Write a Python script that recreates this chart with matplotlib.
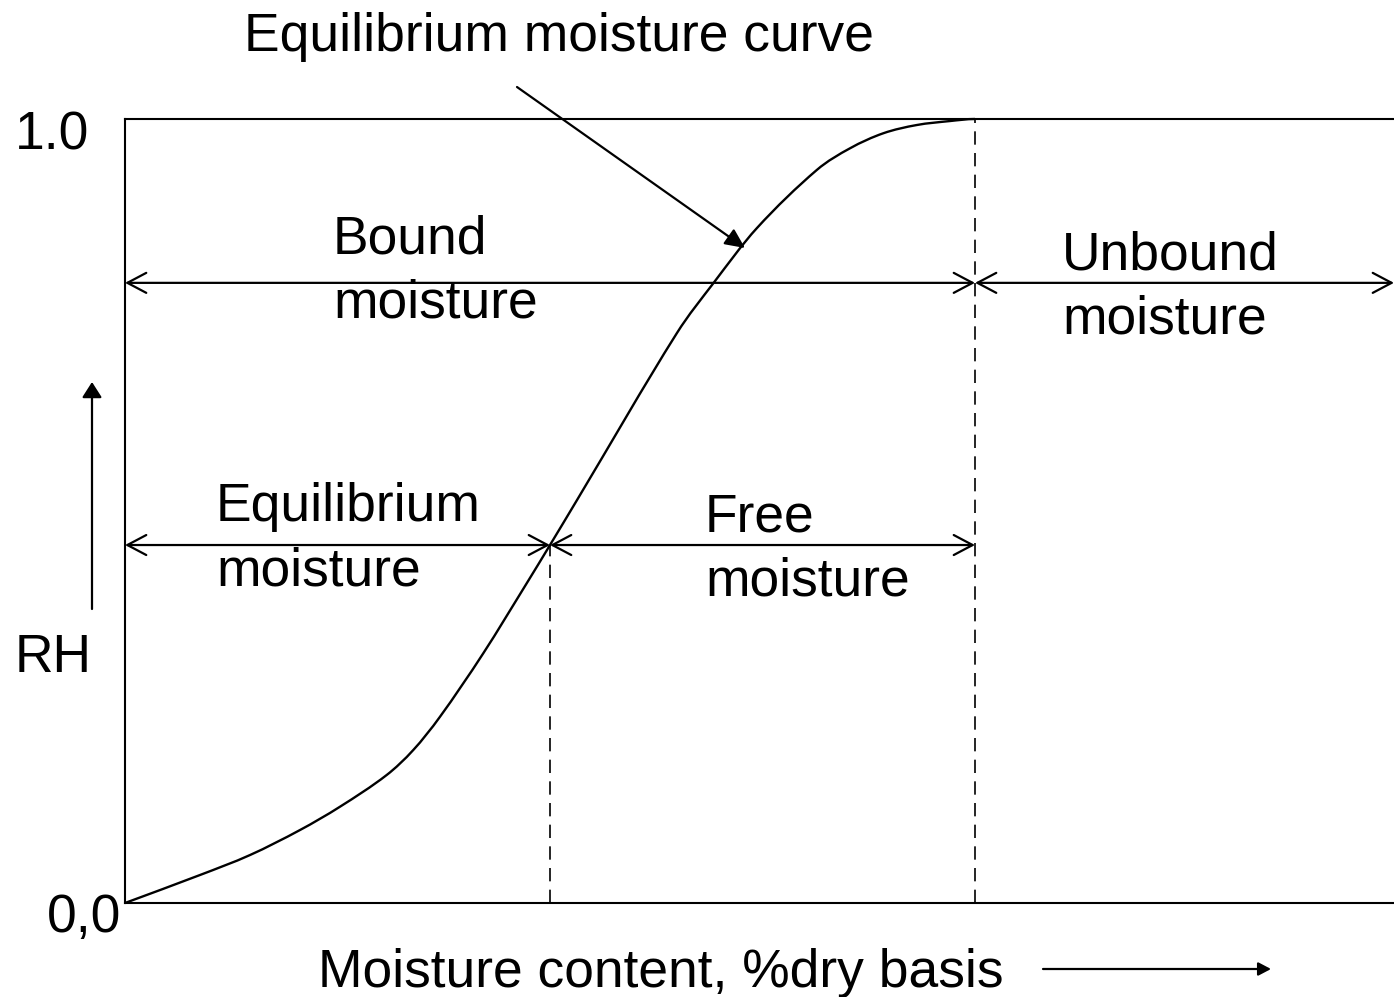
import matplotlib
matplotlib.use("Agg")
import matplotlib.pyplot as plt
from matplotlib.path import Path
from matplotlib.patches import PathPatch

plt.rcParams['font.family'] = ['Liberation Sans', 'DejaVu Sans']

# ---- data (moisture content normalised so that the critical point = 1.0) ----
moisture = [0.0, 0.0882, 0.1471, 0.2059, 0.2529, 0.3079, 0.3392, 0.3706, 0.4215, 0.4726,
            0.500, 0.5318, 0.6491, 0.6921, 0.7432, 0.8138, 0.8529, 0.8921, 0.9314, 0.9706,
            1.000]
rh = [0.0, 0.0357, 0.0612, 0.0931, 0.1228, 0.1633, 0.1952, 0.2376, 0.3185, 0.4078,
      0.4566, 0.5140, 0.7266, 0.7904, 0.8606, 0.9349, 0.9626, 0.9818, 0.9923, 0.9974,
      1.000]
x_equilibrium = 0.5      # equilibrium moisture content
x_critical = 1.0         # bound / unbound boundary
rh_operating = 0.4566    # RH level of equilibrium/free arrows
rh_bound = 0.791         # RH level of bound/unbound arrows
x_max = 1269 / 850

title_text = "Equilibrium moisture curve"
xlabel_text = "Moisture content, %dry basis"
ylabel_text = "RH"
ytick_labels = ["1.0", "0,0"]
region_labels = ["Bound\nmoisture", "Unbound\nmoisture", "Equilibrium\nmoisture", "Free\nmoisture"]

W, H = 1394, 997
fig = plt.figure(figsize=(W / 100, H / 100), dpi=100)
ax = fig.add_axes([125 / W, (H - 903) / H, (W - 125) / W, 784 / H])
ax.set_xlim(0, x_max)
ax.set_ylim(0, 1)
ax.set_xticks([])
ax.set_yticks([])
for s in ['left', 'top', 'bottom']:
    ax.spines[s].set_linewidth(1.5)
ax.spines['right'].set_visible(False)


def px(x, y):
    """pixel position -> data coords of ax"""
    return (x - 125) / 850, (903 - y) / 784


# curve: smooth cubic Hermite Bezier path through the read points
n = len(moisture)
slopes = []
for i in range(n):
    if i == 0:
        slopes.append((rh[1] - rh[0]) / (moisture[1] - moisture[0]))
    elif i == n - 1:
        slopes.append(0.0)
    else:
        slopes.append((rh[i + 1] - rh[i - 1]) / (moisture[i + 1] - moisture[i - 1]))
verts = [(moisture[0], rh[0])]
codes = [Path.MOVETO]
for i in range(n - 1):
    h = moisture[i + 1] - moisture[i]
    verts += [(moisture[i] + h / 3, rh[i] + slopes[i] * h / 3),
              (moisture[i + 1] - h / 3, rh[i + 1] - slopes[i + 1] * h / 3),
              (moisture[i + 1], rh[i + 1])]
    codes += [Path.CURVE4] * 3
ax.add_patch(PathPatch(Path(verts, codes), facecolor='none', edgecolor='black', lw=1.7,
                       clip_on=False))

# dashed verticals
ax.plot([x_equilibrium, x_equilibrium], [0, rh_operating], color='black', lw=1.2,
        linestyle=(0, (8, 5)))
ax.plot([x_critical, x_critical], [0, 1], color='black', lw=1.2, linestyle=(0, (8, 5)))

# double arrows
dbl = dict(arrowstyle='<->, head_length=0.68, head_width=0.36', lw=1.6, color='black',
           shrinkA=0, shrinkB=0, mutation_scale=20)
for (x0, x1, y) in [(0, x_critical, rh_bound), (x_critical, x_max, rh_bound),
                    (0, x_equilibrium, rh_operating), (x_equilibrium, x_critical, rh_operating)]:
    ax.annotate('', xy=(x1, y), xytext=(x0, y), arrowprops=dbl, annotation_clip=False)

# curve annotation arrow
ax.annotate('', xy=px(745, 248), xytext=px(517, 87),
            arrowprops=dict(arrowstyle='-|>, head_length=0.6, head_width=0.28', lw=1.6,
                            color='black', shrinkA=0, shrinkB=0, mutation_scale=20),
            annotation_clip=False)
# RH arrow
ax.annotate('', xy=px(92, 382), xytext=px(92, 609),
            arrowprops=dict(arrowstyle='-|>, head_length=0.47, head_width=0.3', lw=1.6,
                            color='black', shrinkA=0, shrinkB=0, mutation_scale=20),
            annotation_clip=False)
# moisture content arrow
ax.annotate('', xy=px(1271, 969), xytext=px(1043, 969),
            arrowprops=dict(arrowstyle='-|>, head_length=0.38, head_width=0.2', lw=1.6,
                            color='black', shrinkA=0, shrinkB=0, mutation_scale=20),
            annotation_clip=False)

FS = 38.4


def ftext(x, y, s, **kw):
    fig.text(x / W, 1 - y / H, s, fontsize=FS, ha='left', va='baseline', **kw)


ftext(244, 51, title_text)
ftext(318, 987, xlabel_text)
ftext(15, 672, ylabel_text)
ftext(15, 149, ytick_labels[0])
ftext(47, 932, ytick_labels[1])

label_pos = [(333, 253), (1062, 269), (216, 521), (705, 532)]
for lab, (lx, ly) in zip(region_labels, label_pos):
    for i, line in enumerate(lab.split("\n")):
        ftext(lx, ly + 64 * i, line)

fig.savefig("out.png", dpi=100)
